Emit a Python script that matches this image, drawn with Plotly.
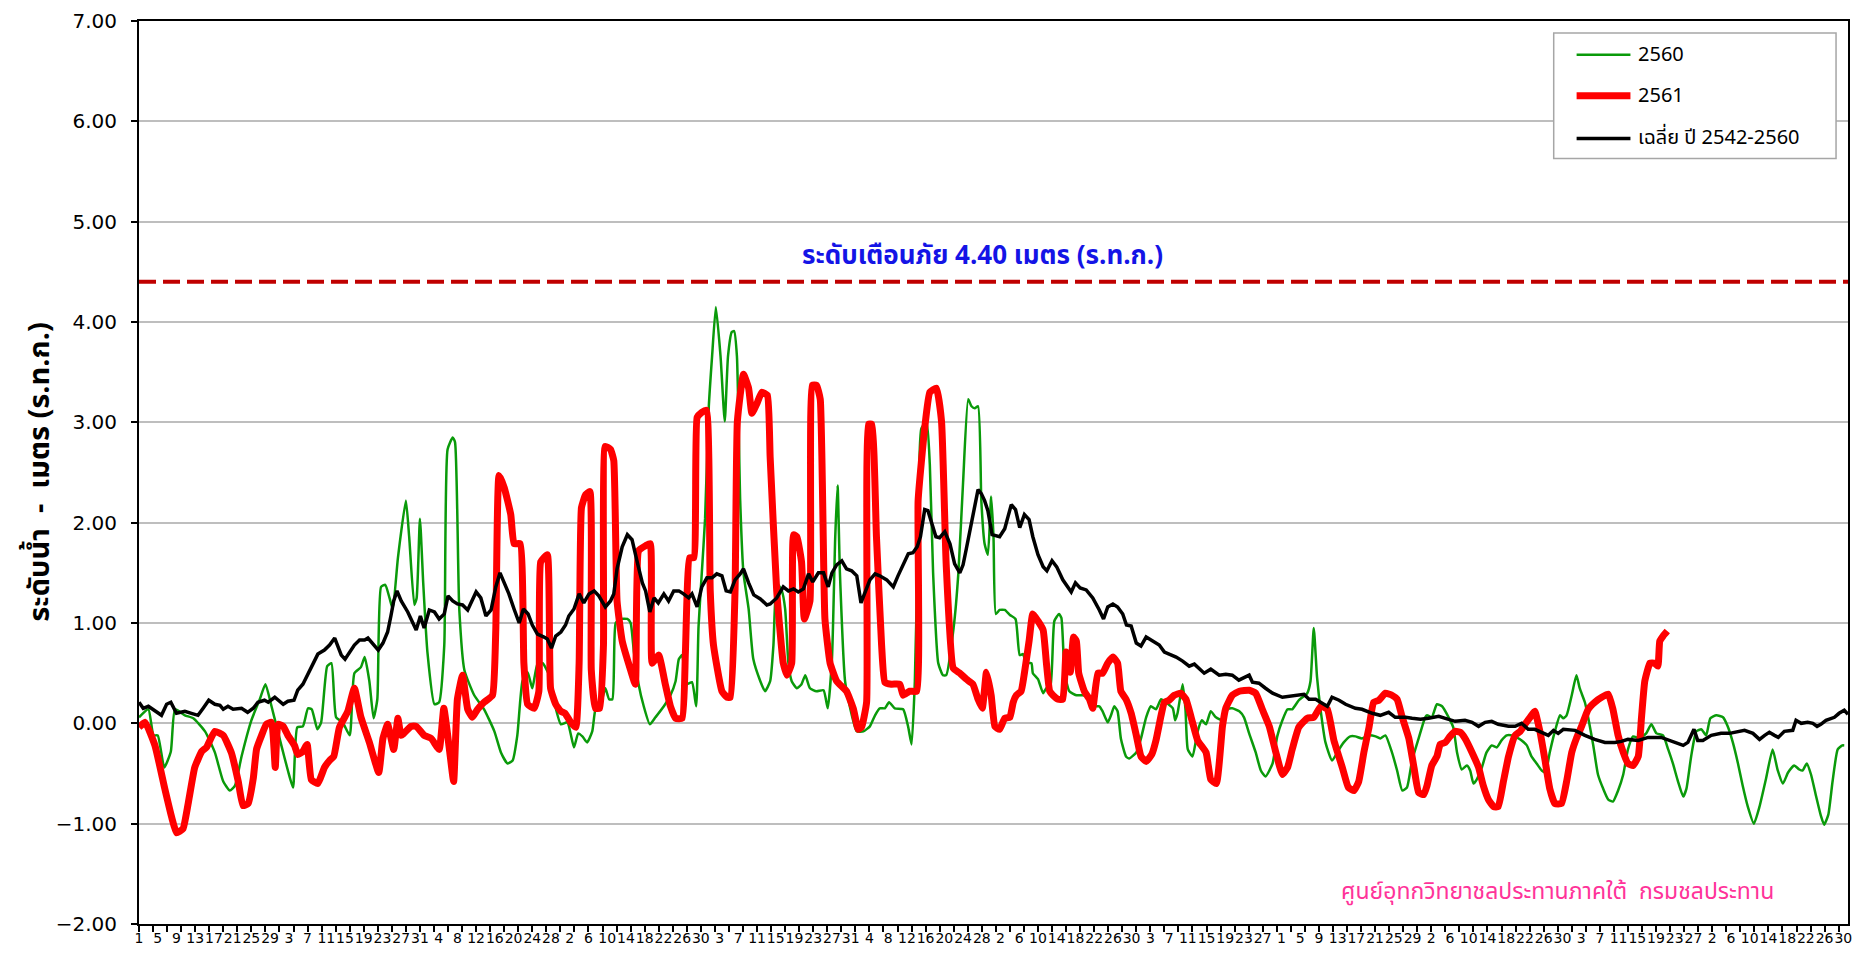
import plotly.graph_objects as go

# ---- daily water level, day index 0 = 1 April, 366 days to 31 March ----
days_2560 = [0, 2.0, 3.1, 4.0, 5.4, 6.8, 7.7, 9.8, 11.6, 14.1, 16.2, 18.0, 19.4, 20.5, 21.9, 24.0, 25.8, 27.0,
             28.3, 30.4, 31.8, 32.9, 33.8, 35.0, 36.1, 36.9, 38.1, 38.9, 40.2, 41.1, 42.1, 43.5, 45.0, 46.0,
             47.4, 48.2, 49.2, 50.1, 50.9, 51.7, 52.6, 53.5, 54.2, 55.3, 57.0, 57.7, 58.8, 59.3, 60.0, 60.7,
             61.6, 63.1, 64.1, 65.2, 65.9, 67.0, 67.5, 68.4, 69.5, 71.6, 73.7, 75.9, 77.3, 78.7, 79.8, 80.8,
             81.9, 83.0, 84.0, 85.1, 86.2, 87.6, 88.8, 90.1, 91.5, 92.9, 93.8, 94.7, 95.7, 96.8, 97.5, 98.6,
             99.6, 100.4, 101.1, 101.8, 102.8, 104.3, 105.0, 105.7, 106.7, 107.8, 109.1, 110.3, 112.1, 113.5,
             114.6, 115.3, 116.0, 117.0, 118.1, 119.0, 119.5, 120.2, 120.9, 121.7, 122.4, 123.2, 124.2, 125.1,
             125.8, 126.6, 127.1, 127.7, 128.4, 129.1, 130.2, 131.2, 132.7, 133.7, 134.8, 135.5, 136.2, 137.3,
             138.0, 138.7, 139.4, 140.5, 141.5, 142.3, 143.3, 144.7, 146.2, 147.1, 148.0, 148.7, 149.2, 149.7,
             150.8, 151.8, 153.3, 154.7, 156.1, 157.2, 158.2, 159.3, 160.2, 161.4, 163.2, 164.3, 165.0, 165.7,
             166.4, 167.1, 168.2, 168.9, 169.6, 170.7, 171.7, 172.4, 174.0, 175.0, 176.0, 177.1, 177.8, 178.5,
             179.2, 179.9, 180.6, 181.3, 182.0, 182.5, 183.0, 183.8, 184.9, 186.0, 187.2, 188.1, 188.8, 189.5,
             190.6, 190.9, 192.0, 193.1, 193.8, 194.6, 195.5, 196.5, 197.0, 197.7, 198.7, 200.2, 201.6, 203.0,
             204.1, 205.1, 205.8, 206.9, 207.6, 208.3, 209.0, 209.7, 210.8, 211.5, 213.0, 214.0, 215.1, 216.1,
             217.2, 218.3, 219.3, 220.8, 221.3, 221.8, 222.9, 223.5, 224.0, 225.0, 226.1, 227.0, 227.9, 228.9,
             230.0, 231.4, 232.5, 233.5, 235.0, 236.0, 237.1, 238.5, 239.6, 240.6, 242.1, 243.1, 244.2, 245.3,
             246.3, 247.7, 249.5, 250.2, 250.9, 251.6, 252.4, 253.4, 254.8, 256.3, 257.3, 258.7, 259.8, 261.2,
             262.7, 264.1, 265.1, 266.2, 267.6, 268.7, 269.8, 270.8, 271.9, 273.3, 274.7, 275.1, 276.1, 277.2,
             278.3, 279.7, 280.7, 281.5, 282.5, 283.6, 284.3, 285.0, 285.7, 286.8, 287.8, 288.9, 290.0, 291.0,
             292.1, 293.2, 294.2, 295.3, 296.4, 297.4, 298.5, 299.6, 300.4, 301.3, 302.4, 303.5, 304.2, 304.9,
             306.0, 307.0, 307.7, 308.8, 309.5, 310.6, 311.6, 312.7, 313.8, 314.8, 315.9, 317.0, 318.0, 319.1,
             320.5, 321.9, 323.0, 324.1, 325.5, 326.6, 327.6, 328.7, 329.8, 330.5, 331.5, 332.6, 333.7, 334.7,
             335.6, 336.9, 338.3, 339.3, 340.4, 341.5, 342.5, 343.6, 344.9, 346.1, 347.5, 348.9, 350.0, 351.1,
             352.2, 353.5, 354.6, 355.3, 356.2, 357.1, 358.2, 359.2, 359.9, 360.8, 361.7, 362.8, 363.8, 364.2]
level_2560 = [0.06, 0.14, -0.12, -0.12, -0.44, -0.28, 0.14, 0.08, 0.05, -0.08, -0.29, -0.58, -0.67, -0.62, -0.33,
              0.03, 0.24, 0.39, 0.17, -0.22, -0.47, -0.64, -0.04, -0.03, 0.15, 0.14, -0.06, 0.01, 0.57, 0.60,
              0.06, 0.01, -0.12, 0.50, 0.56, 0.66, 0.42, 0.05, 0.24, 1.36, 1.38, 1.25, 1.14, 1.65, 2.22, 1.86,
              1.18, 1.25, 2.04, 1.40, 0.71, 0.19, 0.21, 0.78, 2.73, 2.85, 2.80, 1.14, 0.53, 0.28, 0.14, -0.08,
              -0.29, -0.40, -0.37, -0.12, 0.42, 0.51, 0.35, 0.59, 0.60, 0.48, 0.19, -0.01, 0.01, -0.24, -0.10,
              -0.13, -0.19, -0.08, 0.14, 0.19, 0.35, 0.24, 0.24, 1.00, 1.04, 1.04, 1.00, 0.71, 0.39, 0.17, -0.01,
              0.06, 0.17, 0.28, 0.42, 0.64, 0.68, 0.39, 0.41, 0.17, 0.96, 1.50, 2.04, 3.16, 3.66, 4.15, 3.66,
              3.01, 3.66, 3.90, 3.91, 3.66, 2.22, 1.50, 1.14, 0.64, 0.42, 0.32, 0.42, 0.78, 1.40, 1.32, 1.14,
              0.60, 0.42, 0.35, 0.39, 0.48, 0.35, 0.32, 0.33, 0.15, 0.64, 1.86, 2.37, 1.50, 0.42, 0.17, -0.08,
              -0.08, -0.03, 0.08, 0.15, 0.15, 0.21, 0.15, 0.14, -0.04, -0.21, 0.42, 1.86, 2.94, 3.00, 2.58, 1.50,
              0.60, 0.48, 0.48, 0.96, 1.50, 2.40, 3.23, 3.16, 3.14, 3.16, 2.22, 1.79, 1.68, 2.26, 1.86, 1.09,
              1.13, 1.13, 1.08, 1.04, 0.68, 0.69, 0.60, 0.60, 0.50, 0.44, 0.30, 0.35, 0.35, 1.02, 1.09, 1.05,
              0.50, 0.32, 0.28, 0.28, 0.26, 0.17, 0.17, 0.12, 0.01, 0.08, 0.17, 0.12, -0.15, -0.33, -0.35, -0.29,
              -0.15, 0.06, 0.17, 0.14, 0.24, 0.21, 0.15, 0.03, 0.10, 0.39, 0.14, -0.26, -0.33, -0.08, 0.03,
              -0.01, 0.12, 0.06, 0.03, 0.14, 0.15, 0.12, 0.06, -0.10, -0.29, -0.47, -0.53, -0.40, -0.13, 0.03,
              0.14, 0.14, 0.23, 0.30, 0.42, 0.95, 0.46, 0.12, -0.19, -0.37, -0.26, -0.19, -0.13, -0.13, -0.15,
              -0.12, -0.13, -0.15, -0.12, -0.29, -0.47, -0.67, -0.64, -0.37, -0.15, 0.06, 0.08, 0.06, 0.19, 0.17,
              0.06, -0.04, -0.29, -0.46, -0.42, -0.47, -0.60, -0.56, -0.44, -0.29, -0.22, -0.24, -0.17, -0.12,
              -0.12, -0.14, -0.17, -0.22, -0.33, -0.40, -0.47, -0.49, -0.29, -0.08, 0.08, 0.05, 0.08, 0.28, 0.48,
              0.35, 0.21, 0.06, -0.22, -0.51, -0.65, -0.76, -0.78, -0.67, -0.51, -0.26, -0.13, -0.15, -0.10,
              -0.01, -0.10, -0.12, -0.26, -0.40, -0.58, -0.73, -0.65, -0.33, -0.08, -0.06, -0.12, 0.05, 0.08,
              0.06, -0.03, -0.19, -0.40, -0.62, -0.83, -1.00, -0.83, -0.55, -0.26, -0.47, -0.60, -0.49, -0.42,
              -0.46, -0.47, -0.40, -0.51, -0.73, -0.92, -1.01, -0.91, -0.58, -0.26, -0.22, -0.22]

days_2561 = [0, 1.3, 3.4, 5.5, 7.0, 8.0, 9.4, 10.5, 11.9, 13.4, 14.4, 16.2, 18.0, 19.7, 21.2, 22.2, 23.3, 24.4,
             25.1, 26.1, 27.2, 28.3, 29.1, 29.7, 30.8, 31.8, 33.2, 33.9, 35.0, 35.9, 36.8, 38.2, 39.6, 40.7,
             41.6, 42.8, 44.6, 46.0, 47.4, 49.2, 51.2, 52.1, 53.1, 54.4, 55.3, 56.0, 58.1, 59.2, 60.9, 62.4,
             64.1, 65.1, 66.3, 67.2, 68.0, 69.1, 70.2, 71.2, 72.3, 73.7, 75.5, 76.2, 76.9, 78.0, 79.4, 80.1,
             81.4, 82.2, 83.0, 84.4, 85.4, 85.8, 87.2, 87.9, 89.0, 90.1, 91.0, 92.2, 93.3, 94.0, 94.5, 95.4,
             96.3, 96.6, 97.5, 98.4, 99.2, 99.6, 100.7, 101.4, 102.1, 103.2, 105.0, 106.0, 106.7, 108.2, 109.2,
             109.6, 111.0, 112.4, 113.5, 114.6, 116.0, 116.7, 117.6, 118.5, 119.2, 120.2, 121.2, 122.0, 122.7,
             124.5, 125.6, 126.3, 127.3, 127.8, 129.1, 130.2, 130.9, 132.0, 133.0, 134.2, 134.8, 136.2, 137.6,
             138.4, 139.4, 139.8, 140.5, 141.5, 142.1, 143.3, 143.8, 144.7, 145.5, 146.5, 147.6, 149.0, 151.1,
             152.6, 153.6, 154.3, 155.4, 155.8, 156.5, 157.5, 158.6, 159.3, 160.7, 162.5, 163.2, 164.6, 166.1,
             166.4, 167.8, 168.9, 170.3, 171.4, 172.4, 173.9, 175.3, 176.7, 178.1, 179.2, 180.1, 181.0, 182.0,
             182.8, 183.8, 184.9, 186.0, 186.7, 187.4, 188.4, 189.1, 190.1, 190.9, 192.0, 193.1, 193.8, 194.5,
             195.2, 196.3, 197.3, 198.0, 198.9, 199.6, 200.2, 200.7, 201.9, 203.0, 203.7, 204.8, 205.8, 206.9,
             208.0, 209.0, 209.7, 210.8, 211.9, 213.0, 214.0, 215.1, 216.3, 217.2, 218.3, 219.0, 220.0, 221.1,
             222.5, 223.6, 225.0, 226.1, 227.9, 228.9, 230.1, 231.4, 232.1, 233.5, 235.0, 237.1, 238.5, 239.9,
             241.4, 242.8, 244.2, 245.3, 246.3, 247.7, 249.5, 250.9, 252.4, 253.8, 255.2, 257.0, 258.3, 259.5,
             260.5, 261.6, 262.7, 263.7, 264.8, 266.2, 267.6, 268.7, 269.8, 271.2, 272.3, 273.3, 274.4, 275.1,
             276.1, 277.2, 277.9, 279.0, 280.0, 281.1, 282.2, 283.2, 284.7, 286.1, 287.1, 288.2, 289.3, 290.3,
             291.4, 292.5, 293.9, 295.0, 296.0, 297.1, 298.1, 299.2, 300.3, 301.3, 302.4, 303.8, 304.9, 306.0,
             307.0, 308.1, 309.5, 310.9, 312.4, 313.8, 314.8, 315.9, 317.0, 318.0, 319.1, 320.2, 320.9, 321.6,
             322.7, 323.7, 324.4, 324.8, 325.5, 326.4]
level_2561 = [-0.04, 0.01, -0.22, -0.65, -0.94, -1.09, -1.05, -0.80, -0.44, -0.28, -0.24, -0.08, -0.12, -0.29,
              -0.58, -0.82, -0.80, -0.55, -0.26, -0.13, -0.01, 0.01, -0.44, -0.01, -0.03, -0.12, -0.22, -0.31,
              -0.28, -0.21, -0.56, -0.60, -0.44, -0.37, -0.33, -0.04, 0.12, 0.35, 0.06, -0.19, -0.49, -0.15,
              -0.01, -0.26, 0.05, -0.12, -0.03, -0.03, -0.12, -0.15, -0.26, 0.15, -0.26, -0.58, 0.24, 0.48, 0.14,
              0.06, 0.14, 0.21, 0.28, 0.93, 2.47, 2.35, 2.08, 1.79, 1.79, 0.60, 0.19, 0.15, 0.32, 1.61, 1.68,
              0.35, 0.19, 0.12, 0.10, 0.01, -0.04, 0.60, 2.15, 2.28, 2.31, 0.53, 0.15, 0.15, 0.78, 2.76, 2.73,
              2.62, 1.22, 0.82, 0.53, 0.39, 1.72, 1.77, 1.79, 0.60, 0.68, 0.39, 0.17, 0.05, 0.05, 0.71, 1.65,
              1.65, 3.05, 3.10, 3.12, 1.32, 0.78, 0.32, 0.26, 0.26, 1.32, 3.01, 3.48, 3.34, 3.09, 3.19, 3.30,
              3.27, 2.65, 1.32, 0.60, 0.48, 0.60, 1.88, 1.86, 1.61, 1.04, 1.22, 3.37, 3.37, 3.23, 1.04, 0.60,
              0.42, 0.32, 0.14, -0.06, -0.04, 0.21, 2.98, 2.98, 1.86, 0.78, 0.41, 0.39, 0.39, 0.28, 0.32, 0.32,
              2.22, 2.94, 3.30, 3.34, 3.01, 1.58, 0.55, 0.50, 0.44, 0.39, 0.24, 0.15, 0.51, 0.28, -0.03, -0.06,
              0.05, 0.06, 0.21, 0.28, 0.32, 0.50, 0.82, 1.09, 1.02, 0.93, 0.60, 0.32, 0.28, 0.24, 0.24, 0.71,
              0.51, 0.86, 0.82, 0.50, 0.32, 0.24, 0.15, 0.50, 0.50, 0.60, 0.66, 0.60, 0.32, 0.24, 0.10, -0.12,
              -0.33, -0.38, -0.31, -0.17, 0.08, 0.21, 0.23, 0.28, 0.30, 0.24, 0.01, -0.17, -0.29, -0.56, -0.60,
              -0.03, 0.15, 0.28, 0.32, 0.33, 0.30, 0.14, -0.03, -0.29, -0.51, -0.44, -0.26, -0.04, 0.05, 0.06,
              0.17, 0.14, -0.17, -0.44, -0.64, -0.67, -0.58, -0.29, -0.04, 0.21, 0.23, 0.30, 0.28, 0.24, 0.06,
              -0.15, -0.44, -0.69, -0.71, -0.62, -0.42, -0.33, -0.21, -0.19, -0.13, -0.08, -0.09, -0.15, -0.29,
              -0.44, -0.62, -0.76, -0.83, -0.83, -0.58, -0.33, -0.12, -0.08, -0.01, 0.06, 0.12, -0.08, -0.37,
              -0.65, -0.80, -0.80, -0.58, -0.29, -0.15, -0.03, 0.14, 0.21, 0.26, 0.29, 0.14, -0.12, -0.29, -0.40,
              -0.42, -0.33, 0.06, 0.42, 0.60, 0.60, 0.57, 0.82, 0.87, 0.92]

days_avg = [0, 0.9, 2.0, 3.4, 4.8, 5.9, 6.8, 8.0, 9.8, 11.2, 12.6, 13.7, 14.9, 16.2, 17.3, 18.0, 19.0, 20.1, 21.9,
            23.2, 24.4, 25.4, 26.8, 27.6, 29.0, 30.8, 31.8, 33.1, 33.9, 35.0, 36.1, 37.2, 38.2, 39.6, 40.7, 41.8,
            42.5, 43.2, 44.0, 45.0, 46.0, 47.1, 48.2, 48.9, 50.0, 51.1, 52.1, 53.1, 53.8, 54.4, 55.1, 56.0, 57.4,
            58.4, 59.2, 60.1, 60.9, 62.0, 63.1, 64.1, 65.2, 66.0, 67.0, 68.0, 69.1, 70.2, 70.9, 72.0, 73.0, 74.1,
            75.2, 76.2, 77.1, 78.0, 79.0, 80.1, 81.2, 82.1, 83.1, 84.0, 85.1, 86.5, 87.2, 88.1, 89.0, 90.1, 91.1,
            91.8, 92.9, 94.0, 95.0, 96.1, 97.2, 98.2, 99.6, 100.7, 101.4, 102.1, 103.2, 104.3, 105.3, 106.4,
            107.5, 108.2, 109.1, 110.0, 110.9, 112.1, 113.1, 114.2, 115.3, 116.3, 117.4, 118.1, 119.2, 120.2,
            121.3, 122.4, 123.4, 124.5, 125.4, 126.3, 127.3, 128.4, 129.1, 130.2, 131.3, 132.7, 134.1, 134.8,
            136.2, 137.6, 138.7, 139.8, 140.8, 141.9, 143.0, 143.9, 145.1, 146.2, 147.2, 148.0, 149.0, 150.1,
            151.1, 152.2, 153.3, 154.2, 155.0, 156.1, 157.2, 158.2, 159.7, 161.1, 162.1, 163.2, 164.3, 165.3,
            166.2, 166.9, 167.8, 168.5, 169.3, 170.2, 171.0, 172.1, 173.2, 174.2, 175.3, 176.0, 176.7, 177.6,
            178.5, 179.2, 179.9, 180.6, 181.3, 182.2, 183.8, 184.9, 185.6, 186.3, 187.2, 188.1, 189.1, 190.1,
            190.9, 192.0, 193.1, 193.9, 195.0, 196.0, 197.3, 199.1, 200.0, 201.0, 202.3, 203.7, 205.1, 206.0,
            206.9, 208.0, 209.0, 210.1, 210.9, 211.9, 213.0, 214.0, 215.1, 216.5, 217.9, 219.0, 220.0, 221.5,
            222.9, 224.3, 225.4, 226.4, 227.5, 228.9, 230.7, 232.1, 233.5, 234.9, 237.1, 237.8, 239.2, 240.6,
            242.1, 244.2, 245.6, 247.0, 248.8, 249.9, 251.3, 252.7, 253.8, 254.8, 256.3, 257.7, 259.8, 261.2,
            263.4, 265.1, 266.9, 268.3, 270.5, 271.9, 273.7, 275.4, 277.6, 279.0, 281.1, 283.2, 284.7, 286.1,
            287.5, 288.9, 290.3, 292.5, 293.9, 295.3, 296.7, 298.1, 299.6, 301.0, 302.1, 303.1, 304.2, 306.7,
            308.8, 310.9, 313.1, 315.2, 316.6, 318.0, 320.2, 322.3, 325.1, 327.3, 329.8, 330.8, 332.1, 332.9,
            334.0, 335.8, 337.9, 339.7, 341.1, 342.9, 344.7, 346.1, 347.2, 348.2, 349.3, 350.1, 351.4, 353.2,
            353.9, 355.0, 356.4, 357.5, 358.4, 359.2, 360.3, 362.1, 363.1, 364.2, 365.0]
level_avg = [0.21, 0.15, 0.17, 0.12, 0.08, 0.19, 0.21, 0.10, 0.12, 0.10, 0.08, 0.15, 0.23, 0.19, 0.18, 0.14,
             0.17, 0.14, 0.15, 0.11, 0.15, 0.21, 0.23, 0.21, 0.26, 0.19, 0.22, 0.23, 0.33, 0.39, 0.50, 0.60,
             0.69, 0.73, 0.78, 0.85, 0.77, 0.68, 0.64, 0.71, 0.78, 0.83, 0.83, 0.85, 0.79, 0.73, 0.80, 0.91,
             1.07, 1.22, 1.32, 1.22, 1.11, 1.02, 0.93, 1.07, 0.95, 1.13, 1.11, 1.04, 1.09, 1.27, 1.22, 1.19,
             1.18, 1.13, 1.20, 1.31, 1.25, 1.07, 1.13, 1.36, 1.50, 1.41, 1.29, 1.14, 1.00, 1.14, 1.09, 0.98,
             0.89, 0.86, 0.84, 0.75, 0.87, 0.91, 0.98, 1.07, 1.14, 1.29, 1.20, 1.29, 1.32, 1.27, 1.16, 1.22,
             1.29, 1.54, 1.76, 1.88, 1.83, 1.61, 1.40, 1.32, 1.11, 1.25, 1.20, 1.29, 1.22, 1.32, 1.32, 1.29,
             1.25, 1.29, 1.16, 1.36, 1.45, 1.45, 1.49, 1.47, 1.32, 1.31, 1.43, 1.49, 1.54, 1.40, 1.28, 1.24,
             1.18, 1.19, 1.25, 1.36, 1.32, 1.34, 1.31, 1.34, 1.49, 1.41, 1.50, 1.50, 1.36, 1.50, 1.58, 1.62,
             1.54, 1.52, 1.47, 1.20, 1.29, 1.43, 1.49, 1.47, 1.43, 1.36, 1.47, 1.59, 1.69, 1.70, 1.76, 1.86,
             2.13, 2.12, 2.01, 1.86, 1.85, 1.91, 1.79, 1.59, 1.50, 1.58, 1.74, 1.94, 2.15, 2.33, 2.29, 2.22,
             2.12, 1.88, 1.86, 1.94, 2.06, 2.18, 2.13, 1.95, 2.08, 2.03, 1.86, 1.68, 1.56, 1.52, 1.62, 1.56,
             1.43, 1.31, 1.40, 1.35, 1.33, 1.25, 1.13, 1.04, 1.16, 1.19, 1.16, 1.09, 0.98, 0.97, 0.80, 0.77,
             0.86, 0.82, 0.78, 0.71, 0.69, 0.66, 0.62, 0.57, 0.59, 0.55, 0.50, 0.54, 0.48, 0.49, 0.48, 0.43,
             0.48, 0.41, 0.40, 0.35, 0.30, 0.26, 0.27, 0.28, 0.29, 0.24, 0.24, 0.20, 0.17, 0.26, 0.23, 0.19,
             0.15, 0.14, 0.10, 0.08, 0.11, 0.06, 0.06, 0.05, 0.04, 0.05, 0.07, 0.05, 0.02, 0.03, 0.01, -0.03,
             0.01, 0.02, -0.01, -0.03, -0.03, 0.00, -0.06, -0.06, -0.09, -0.12, -0.07, -0.10, -0.06, -0.07,
             -0.12, -0.16, -0.19, -0.19, -0.18, -0.16, -0.17, -0.14, -0.14, -0.18, -0.22, -0.19, -0.06, -0.17,
             -0.17, -0.12, -0.10, -0.10, -0.09, -0.07, -0.10, -0.16, -0.12, -0.09, -0.12, -0.14, -0.08, -0.07,
             0.03, 0.00, 0.01, 0.00, -0.03, -0.01, 0.03, 0.06, 0.10, 0.13, 0.09]

# ---- axis labels: day of month every 4 days ----
tick_days = list(range(0, 366, 4))
tick_labels = ["1", "5", "9", "13", "17", "21", "25", "29",
               "3", "7", "11", "15", "19", "23", "27", "31",
               "4", "8", "12", "16", "20", "24", "28",
               "2", "6", "10", "14", "18", "22", "26", "30",
               "3", "7", "11", "15", "19", "23", "27", "31",
               "4", "8", "12", "16", "20", "24", "28",
               "2", "6", "10", "14", "18", "22", "26", "30",
               "3", "7", "11", "15", "19", "23", "27",
               "1", "5", "9", "13", "17", "21", "25", "29",
               "2", "6", "10", "14", "18", "22", "26", "30",
               "3", "7", "11", "15", "19", "23", "27",
               "2", "6", "10", "14", "18", "22", "26", "30"]

warning_level = 4.40
series_names = ["2560", "2561", "เฉลี่ย ปี 2542-2560"]
series_colors = ["#0A9A0A", "#FF0000", "#000000"]
series_widths = [2.5, 7, 3.5]

THAI = "Tahoma, 'Noto Sans Thai', 'Noto Sans Thai UI', 'Loma', 'Garuda', 'DejaVu Sans', sans-serif"

fig = go.Figure()
fig.add_trace(go.Scatter(x=days_2560, y=level_2560, mode="lines", name=series_names[0],
                         line=dict(color=series_colors[0], width=series_widths[0], shape="spline", smoothing=0.5),
                         showlegend=False))
fig.add_trace(go.Scatter(x=days_2561, y=level_2561, mode="lines", name=series_names[1],
                         line=dict(color=series_colors[1], width=series_widths[1], shape="spline", smoothing=0.4),
                         showlegend=False))
fig.add_trace(go.Scatter(x=days_avg, y=level_avg, mode="lines", name=series_names[2],
                         line=dict(color=series_colors[2], width=series_widths[2]),
                         showlegend=False))

# warning level line
fig.add_shape(type="line", xref="paper", x0=0, x1=1, yref="y", y0=warning_level, y1=warning_level,
              line=dict(color="#C00000", width=4, dash="17px,7px"), layer="above")
fig.add_annotation(xref="paper", x=0.4933, yref="y", y=4.66, text="<b>ระดับเตือนภัย 4.40 เมตร (ร.ท.ก.)</b>",
                   showarrow=False, font=dict(family=THAI, size=26, color="#1414E6"), xanchor="center",
                   yanchor="middle")
fig.add_annotation(xref="paper", x=0.830, yref="y", y=-1.685,
                   text="ศูนย์อุทกวิทยาชลประทานภาคใต้  กรมชลประทาน",
                   showarrow=False, font=dict(family=THAI, size=23, color="#FF3399"), xanchor="center",
                   yanchor="middle")
# y axis title
fig.add_annotation(xref="paper", x=-0.0584, yref="paper", y=0.5, text="<b>ระดับน้ำ  -  เมตร (ร.ท.ก.)</b>",
                   textangle=-90, showarrow=False, font=dict(family=THAI, size=29, color="#000000"),
                   xanchor="center", yanchor="middle")

# legend box
fig.add_shape(type="rect", xref="paper", yref="paper", x0=0.8278, x1=0.9930, y0=0.8478, y1=0.9868,
              line=dict(color="#A6A6A6", width=1.5), fillcolor="white", layer="above")
legend_rows = [0.9625, 0.9173, 0.8699]
for name, color, width, yrow in zip(series_names, series_colors, series_widths, legend_rows):
    fig.add_shape(type="line", xref="paper", yref="paper", x0=0.8412, x1=0.8727, y0=yrow, y1=yrow,
                  line=dict(color=color, width=width), layer="above")
    fig.add_annotation(xref="paper", yref="paper", x=0.8757, y=yrow, text=name, showarrow=False,
                       xanchor="left", yanchor="middle", font=dict(family=THAI, size=20, color="#000000"))

fig.update_layout(
    width=1861, height=961,
    margin=dict(l=139, r=9, t=17, b=37),
    paper_bgcolor="white", plot_bgcolor="white",
    font=dict(family=THAI, color="#000000"),
)
fig.update_xaxes(range=[0, 365], tickmode="array", tickvals=tick_days, ticktext=tick_labels, tickangle=0,
                 ticks="", tickfont=dict(family="DejaVu Sans", size=14), showgrid=False, zeroline=False,
                 showline=True, linecolor="#000000", linewidth=2, mirror=True,
                 minor=dict(tickmode="linear", tick0=0, dtick=3, ticks="outside", ticklen=6,
                            tickcolor="#000000", tickwidth=1.5, showgrid=False))
fig.update_yaxes(range=[-2, 7], dtick=1, tick0=0, tickformat=".2f", ticks="outside", ticklen=6,
                 tickcolor="#000000", tickwidth=1.5, tickfont=dict(family="DejaVu Sans", size=20),
                 ticklabelstandoff=10,
                 showgrid=True, gridcolor="#BEBEBE", gridwidth=1.5, zeroline=False,
                 showline=True, linecolor="#000000", linewidth=2, mirror=True)

fig.write_html("out.html")
